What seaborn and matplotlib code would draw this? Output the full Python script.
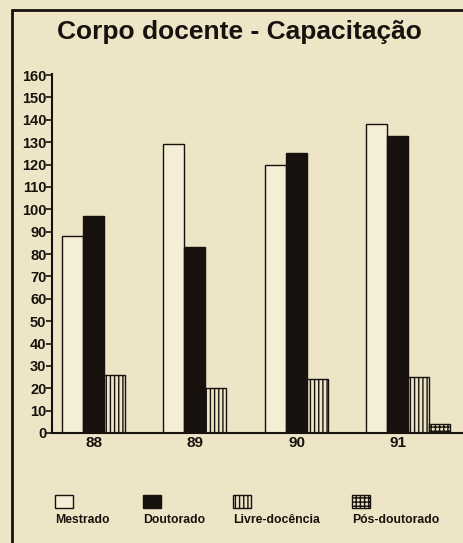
import numpy as np
import pandas as pd
import matplotlib
matplotlib.use("Agg")
import matplotlib.pyplot as plt
import seaborn as sns
from matplotlib.patches import Rectangle
from matplotlib.lines import Line2D

# ---- Data ----
anos = ["88", "89", "90", "91"]
series = ["Mestrado", "Doutorado", "Livre-docência", "Pós-doutorado"]
mestrado = [88, 129, 120, 138]
doutorado = [97, 83, 125, 133]
livre_docencia = [26, 20, 24, 25]
pos_doutorado = [0, 0, 0, 4]
yticks = list(range(0, 161, 10))

# ---- Style ----
paper = "#eee5c6"
ink = "#17120e"
fills = ["#f4eed6", ink, paper, paper]
hatches = ["", "", "||||", "++++"]

sns.set_style("white")
plt.rcParams["font.family"] = ["Liberation Sans", "DejaVu Sans"]
plt.rcParams["hatch.linewidth"] = 1.0
plt.rcParams["hatch.color"] = ink

df = pd.DataFrame({
    "ano": np.repeat(anos, len(series)),
    "tipo": series * len(anos),
    "valor": np.ravel(np.column_stack([mestrado, doutorado, livre_docencia, pos_doutorado])),
})

fig = plt.figure(figsize=(4.63, 5.43), dpi=100, facecolor=paper)
ax = fig.add_axes([52 / 463, 110 / 543, 1 - 52 / 463, 359 / 543])
ax.set_facecolor(paper)

sns.barplot(data=df, x="ano", y="valor", hue="tipo", hue_order=series,
            palette=fills, width=0.83, edgecolor=ink, linewidth=1.0,
            legend=False, ax=ax, saturation=1)

for cont, h in zip(ax.containers, hatches):
    for bar in cont:
        bar.set_hatch(h)
        bar.set_edgecolor(ink)

ax.set_xlim(-0.512, 3.54)
ax.set_ylim(0, 160.5)
ax.set_yticks(yticks)
ax.set_yticklabels([str(v) for v in yticks], fontsize=10.5, fontweight="bold", color=ink)
ax.set_xticks(np.arange(len(anos)) - 0.1)
ax.set_xticklabels(anos, fontsize=11, fontweight="bold", color=ink)
ax.tick_params(axis="y", direction="out", length=4, width=1.2, color=ink, pad=0, left=True)
ax.tick_params(axis="x", length=0, pad=2.5)
ax.set_xlabel("")
ax.set_ylabel("")
for s in ["top", "right"]:
    ax.spines[s].set_visible(False)
for s in ["left", "bottom"]:
    ax.spines[s].set_color(ink)
    ax.spines[s].set_linewidth(1.5)

# title
fig.text(239 / 463, 1 - 32 / 543, "Corpo docente - Capacitação", ha="center", va="center",
         fontsize=19, fontweight="bold", color=ink)

# frame of the newspaper box
fig.add_artist(Line2D([12 / 463, 12 / 463], [0, 1 - 10 / 543], color=ink, lw=2))
fig.add_artist(Line2D([12 / 463, 1], [1 - 10 / 543, 1 - 10 / 543], color=ink, lw=2))

# legend: swatch above label
leg_x = [55, 143, 233, 352]
for x, name, fc, h in zip(leg_x, series, fills, hatches):
    fig.add_artist(Rectangle((x / 463, 1 - 508 / 543), 18 / 463, 13 / 543,
                             transform=fig.transFigure, facecolor=fc, edgecolor=ink,
                             hatch=h, lw=1))
    fig.text(x / 463, 1 - 520 / 543, name, ha="left", va="center",
             fontsize=8.8, fontweight="bold", color=ink)

fig.savefig("out.png", dpi=100, facecolor=paper)
